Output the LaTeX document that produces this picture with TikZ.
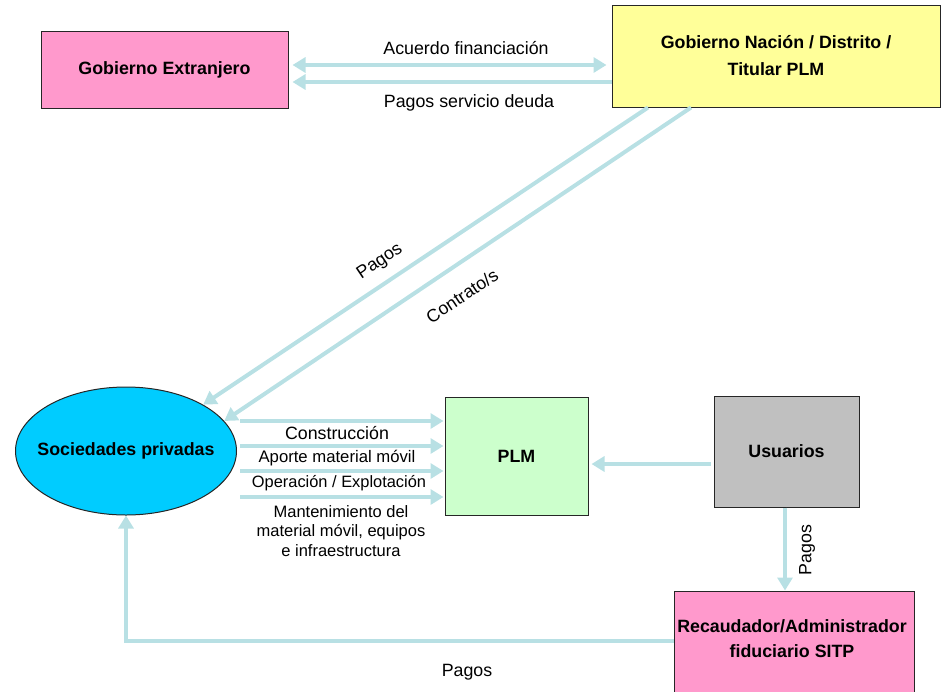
\documentclass[tikz,border=0pt]{standalone}
\usepackage{fontspec}
\setmainfont{Liberation Sans}
\usetikzlibrary{arrows.meta,shapes.geometric}

\definecolor{flowblue}{RGB}{184,224,228}
\definecolor{boxpink}{RGB}{255,153,204}
\definecolor{boxyellow}{RGB}{255,255,153}
\definecolor{boxgreen}{RGB}{204,255,204}
\definecolor{boxgrey}{RGB}{192,192,192}
\definecolor{ovalblue}{RGB}{0,204,255}

\tikzset{
  entity/.style={draw=black!85, line width=1pt, rectangle, inner sep=0pt,
    align=center, font=\fontsize{17.8}{27}\selectfont\bfseries},
  entitytext/.style={inner sep=0pt, align=center,
    font=\fontsize{17.8}{25}\selectfont\bfseries},
  flow/.style={draw=flowblue, line width=4pt,
    -{Triangle[length=13pt,width=15pt]}},
  flowtext/.style={font=\fontsize{17.8}{20}\selectfont, inner sep=0pt, align=center},
}

\begin{document}
\begin{tikzpicture}[x=1pt,y=-1pt]
\useasboundingbox (0,0) rectangle (941,691);

% actors
\node[entity, fill=boxpink, minimum width=247pt, minimum height=77pt]
  (ext) at (164.5,69.5) {Gobierno Extranjero};
\node[entity, fill=boxyellow, minimum width=328pt, minimum height=102pt]
  (gob) at (776,56) {Gobierno Nación / Distrito /\\Titular PLM};
\node[entity, fill=boxgreen, minimum width=143pt, minimum height=118pt]
  (plm) at (516.5,456) {PLM};
\node[entity, fill=boxgrey, minimum width=145pt, minimum height=111pt]
  (usu) at (786.5,451.5) {Usuarios};
\node[entity, fill=boxpink, minimum width=240pt, minimum height=110pt]
  (rec) at (794,646) {};
\node[entitytext] (rectext) at (792,638.5) {Recaudador/Administrador\\fiduciario SITP};
\node[entity, ellipse, fill=ovalblue, minimum width=221pt, minimum height=128pt]
  (soc) at (126,451) {};
\node[entitytext] (soctext) at (soc.center) {Sociedades privadas};

% financing between governments
\draw[flow, {Triangle[length=13pt,width=15pt]}-{Triangle[length=13pt,width=15pt]},
  shorten <=4pt, shorten >=5pt] (ext.east |- 0,65) -- (gob.west |- 0,65);
\draw[flow, shorten >=4pt] (gob.west |- 0,82) -- (ext.east |- 0,82);
\node[flowtext] (lacuerdo) at (466,48) {Acuerdo financiación};
\node[flowtext] (lpagosdeuda) at (469,103) {Pagos servicio deuda};

% contracts and payments to the private companies
\draw[flow] (gob.south -| 648,0) -- (soc.31);
\draw[flow] (gob.south -| 691,0) -- (soc.17);
\node[flowtext, rotate=33.8] (lpagos1) at (380,262) {Pagos};
\node[flowtext, rotate=33.8] (lcontrato) at (462,296) {Contrato/s};

% services delivered to the PLM
\coordinate (sx) at ([xshift=3pt]soc.east);
\draw[flow, shorten >=1pt] (sx |- 0,421) -- (plm.west |- 0,421);
\draw[flow, shorten >=1pt] (sx |- 0,446) -- (plm.west |- 0,446);
\draw[flow, shorten >=1pt] (sx |- 0,471) -- (plm.west |- 0,471);
\draw[flow, shorten >=1pt] (sx |- 0,497) -- (plm.west |- 0,497);
\node[flowtext] (lconst) at (337,433) {Construcción};
\node[flowtext, font=\fontsize{16.7}{20}\selectfont] (laporte) at (337,458)
  {Aporte material móvil};
\node[flowtext, font=\fontsize{16.4}{20}\selectfont] (loper) at (339,483)
  {Operación / Explotación};
\node[flowtext, font=\fontsize{16.5}{19.5}\selectfont] (lmant) at (341,531)
  {Mantenimiento del\\material móvil, equipos\\e infraestructura};

% users
\draw[flow, shorten <=3pt, shorten >=3pt] (usu.west |- 0,464) -- (plm.east |- 0,464);
\draw[flow] (usu.south -| 785,0) -- (rec.north -| 785,0);
\node[flowtext, rotate=90] (lpagos2) at (807,550) {Pagos};

% fiduciary payments back to the companies
\draw[flow] (rec.west |- 0,641) -| (soc.south);
\node[flowtext] (lpagos3) at (467,672) {Pagos};
\end{tikzpicture}
\end{document}
